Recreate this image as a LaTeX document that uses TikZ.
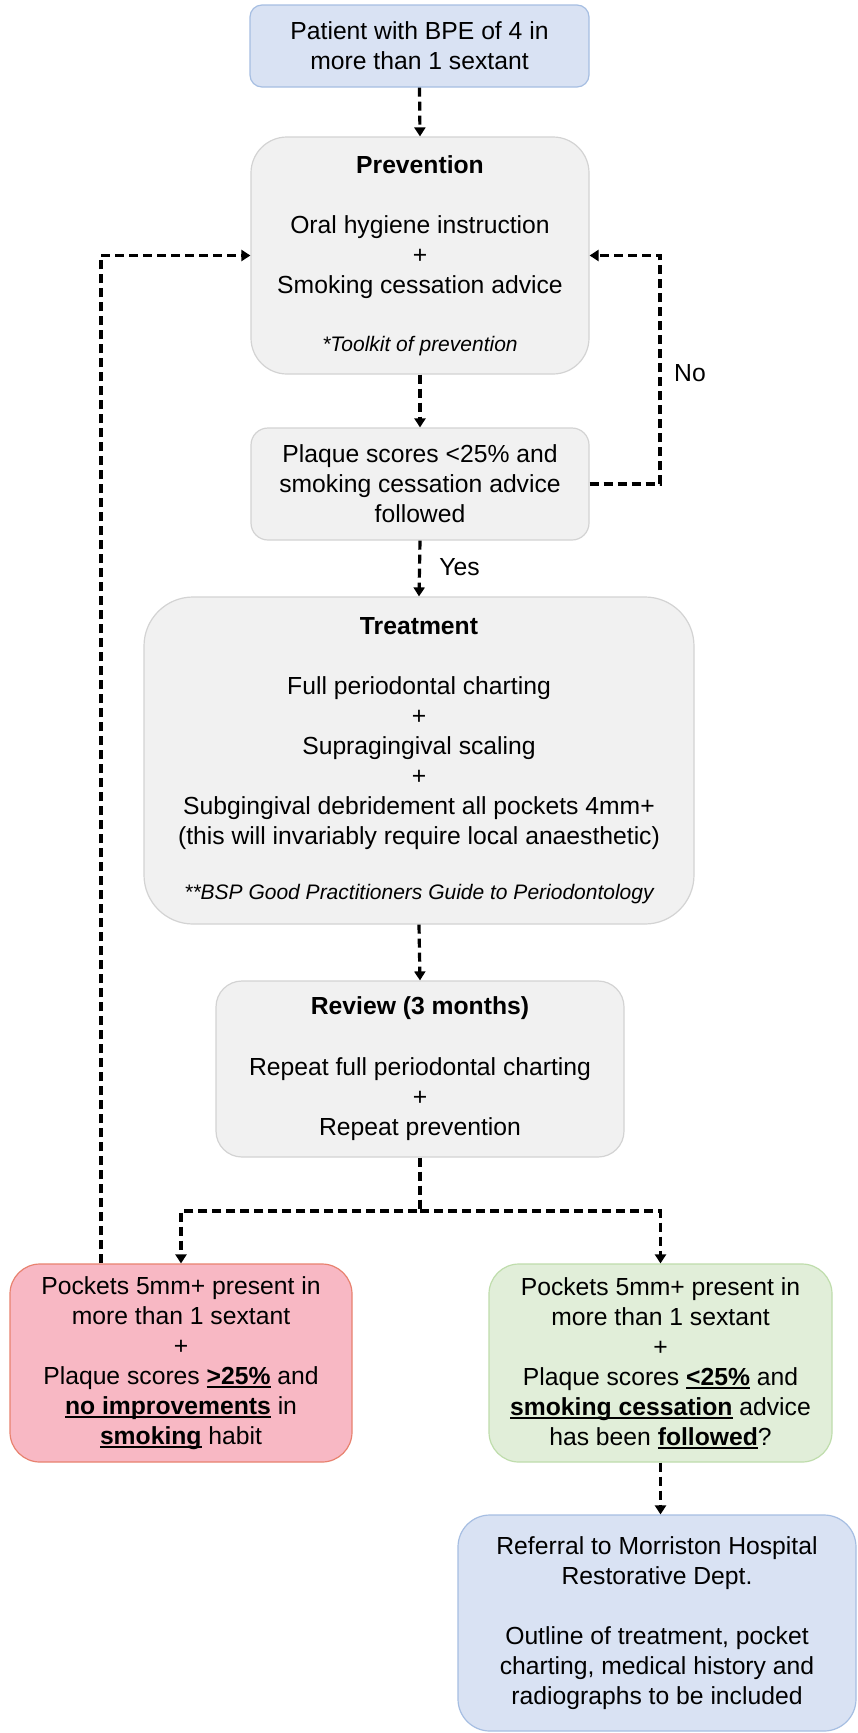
\documentclass[tikz,border=0pt]{standalone}
\usepackage{fontspec}
\setmainfont{Liberation Sans}
\usetikzlibrary{arrows.meta}
\definecolor{blueF}{HTML}{D9E2F3}
\definecolor{blueD}{HTML}{A6BEE2}
\definecolor{greyF}{HTML}{F1F1F1}
\definecolor{greyD}{HTML}{D3D3D3}
\definecolor{redF}{HTML}{F8B8C4}
\definecolor{redD}{HTML}{E8826F}
\definecolor{greenF}{HTML}{E1EED9}
\definecolor{greenD}{HTML}{BFDDAC}
\newcommand\myul[1]{\setbox0\hbox{#1}\rlap{\rule[-3.5pt]{\wd0}{1.8pt}}\box0\relax}
\newcommand\smallit[1]{{\fontsize{21}{25}\selectfont\itshape #1}}
\tikzset{
  box/.style={draw, line width=1.2pt, align=center, inner sep=0pt, text=black,
    font=\fontsize{24.7}{30}\selectfont},
  bluebox/.style={box, fill=blueF, draw=blueD},
  greybox/.style={box, fill=greyF, draw=greyD},
  redbox/.style={box, fill=redF, draw=redD},
  greenbox/.style={box, fill=greenF, draw=greenD},
  arr/.style={line width=3.2pt, dash pattern=on 9pt off 5pt, -{Triangle[width=11pt,length=9pt]}},
  lbl/.style={font=\fontsize{24.7}{30}\selectfont, inner sep=0pt}
}
\begin{document}
\begin{tikzpicture}[x=1pt,y=-1pt]
\useasboundingbox[fill=white] (0,0) rectangle (858,1733);

\node[bluebox, rounded corners=12pt, minimum width=339pt, minimum height=82pt] (top) at (419.5,46)
  {Patient with BPE of 4 in\\more than 1 sextant};

\node[greybox, rounded corners=36pt, minimum width=338pt, minimum height=237pt] (prev) at (420,255.5)
  {\textbf{Prevention}\\[30pt]Oral hygiene instruction\\+\\Smoking cessation advice\\[28pt]\smallit{*Toolkit of prevention}};

\node[greybox, rounded corners=17pt, minimum width=338pt, minimum height=112pt] (plaque) at (420,484)
  {Plaque scores <25\% and\\smoking cessation advice\\followed};

\node[greybox, rounded corners=49pt, minimum width=550pt, minimum height=327pt] (treat) at (419,760.5)
  {\textbf{Treatment}\\[30pt]Full periodontal charting\\+\\Supragingival scaling\\+\\Subgingival debridement all pockets 4mm+\\(this will invariably require local anaesthetic)\\[25pt]\smallit{**BSP Good Practitioners Guide to Periodontology}};

\node[greybox, rounded corners=26pt, minimum width=408pt, minimum height=176pt] (review) at (420,1069)
  {\textbf{Review (3 months)}\\[31pt]Repeat full periodontal charting\\+\\Repeat prevention};

\node[redbox, rounded corners=30pt, minimum width=342pt, minimum height=198pt] (red) at (181,1363)
  {Pockets 5mm+ present in\\more than 1 sextant\\+\\Plaque scores \myul{\textbf{>25\%}} and\\\myul{\textbf{no improvements}} in\\\myul{\textbf{smoking}} habit};

\node[greenbox, rounded corners=30pt, minimum width=343pt, minimum height=198pt] (green) at (660.5,1363)
  {Pockets 5mm+ present in\\more than 1 sextant\\+\\Plaque scores \myul{\textbf{<25\%}} and\\\myul{\textbf{smoking cessation}} advice\\has been \myul{\textbf{followed}}?};

\node[bluebox, rounded corners=32pt, minimum width=398pt, minimum height=216pt] (ref) at (657,1623)
  {Referral to Morriston Hospital\\Restorative Dept.\\[30pt]Outline of treatment, pocket\\charting, medical history and\\radiographs to be included};

\coordinate (noX) at (660,0);
\coordinate (loopX) at (101,0);
\coordinate (splitY) at (0,1211);

\draw[arr] (top.south) -- (prev.north);
\draw[arr] (prev.south) -- (plaque.north);
\draw[arr] (plaque.east) -- (plaque.east -| noX) -- (prev.east -| noX) -- (prev.east);
\node[lbl] (no) at (690,373) {No};
\draw[arr] (plaque.south) -- (treat.north);
\node[lbl] (yes) at (459.5,567) {Yes};
\draw[arr] (treat.south) -- (review.north);
\draw[arr] (review.south) -- (review.south |- splitY) -| (red.north);
\draw[arr] (review.south |- splitY) -| (green.north);
\draw[arr] (red.north -| loopX) -- (prev.west -| loopX) -- (prev.west);
\draw[arr] (green.south) -- (green.south |- ref.north);
\end{tikzpicture}
\end{document}
